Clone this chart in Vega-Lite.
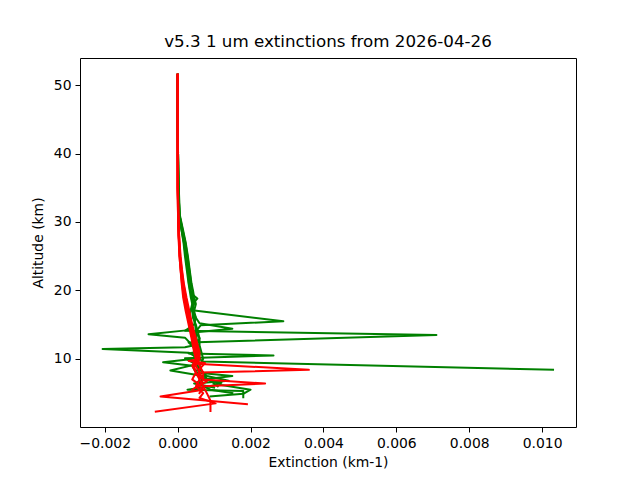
{
  "$schema": "https://vega.github.io/schema/vega-lite/v6.json",
  "width": 496,
  "height": 369,
  "autosize": "none",
  "padding": {"left": 80, "top": 58, "right": 64, "bottom": 53},
  "background": "white",
  "title": {
    "text": "v5.3 1 um extinctions from 2026-04-26",
    "font": "DejaVu Sans",
    "fontSize": 16.7,
    "fontWeight": "normal",
    "color": "black",
    "offset": 7
  },
  "data": {
    "values": [
      {"p": "G1", "c": "g", "a": 51.5, "x": 0},
      {"p": "G1", "c": "g", "a": 45, "x": 0},
      {"p": "G1", "c": "g", "a": 40, "x": 0.00001},
      {"p": "G1", "c": "g", "a": 35, "x": 0.00002},
      {"p": "G1", "c": "g", "a": 31, "x": 0.00004},
      {"p": "G1", "c": "g", "a": 29, "x": 0.0001},
      {"p": "G1", "c": "g", "a": 27, "x": 0.00017},
      {"p": "G1", "c": "g", "a": 25, "x": 0.00022},
      {"p": "G1", "c": "g", "a": 23, "x": 0.00027},
      {"p": "G1", "c": "g", "a": 21, "x": 0.00031},
      {"p": "G1", "c": "g", "a": 20, "x": 0.00034},
      {"p": "G1", "c": "g", "a": 19.5, "x": 0.00038},
      {"p": "G1", "c": "g", "a": 18.8, "x": 0.00054},
      {"p": "G1", "c": "g", "a": 18, "x": 0.0004},
      {"p": "G1", "c": "g", "a": 17, "x": 0.00042},
      {"p": "G1", "c": "g", "a": 16, "x": 0.00045},
      {"p": "G1", "c": "g", "a": 15, "x": 0.00048},
      {"p": "G1", "c": "g", "a": 14, "x": 0.0005},
      {"p": "G1", "c": "g", "a": 13, "x": 0.00052},
      {"p": "G1", "c": "g", "a": 12, "x": 0.00056},
      {"p": "G1", "c": "g", "a": 11, "x": 0.0006},
      {"p": "G1", "c": "g", "a": 10.2, "x": 0.00055},
      {"p": "G1", "c": "g", "a": 9.6, "x": 0.0007},
      {"p": "G1", "c": "g", "a": 8.4, "x": 0.0103},

      {"p": "G2", "c": "g", "a": 51.5, "x": 0},
      {"p": "G2", "c": "g", "a": 45, "x": 0},
      {"p": "G2", "c": "g", "a": 40, "x": 0.00001},
      {"p": "G2", "c": "g", "a": 35, "x": 0.00002},
      {"p": "G2", "c": "g", "a": 31, "x": 0.00005},
      {"p": "G2", "c": "g", "a": 29, "x": 0.00012},
      {"p": "G2", "c": "g", "a": 27, "x": 0.0002},
      {"p": "G2", "c": "g", "a": 25, "x": 0.00025},
      {"p": "G2", "c": "g", "a": 23, "x": 0.0003},
      {"p": "G2", "c": "g", "a": 21, "x": 0.00034},
      {"p": "G2", "c": "g", "a": 20, "x": 0.00036},
      {"p": "G2", "c": "g", "a": 19, "x": 0.0004},
      {"p": "G2", "c": "g", "a": 18, "x": 0.00042},
      {"p": "G2", "c": "g", "a": 17.1, "x": 0.0004},
      {"p": "G2", "c": "g", "a": 15.5, "x": 0.0029},
      {"p": "G2", "c": "g", "a": 14.9, "x": 0.00063},
      {"p": "G2", "c": "g", "a": 14, "x": 0.0005},
      {"p": "G2", "c": "g", "a": 13, "x": 0.0005},
      {"p": "G2", "c": "g", "a": 12, "x": 0.00045},
      {"p": "G2", "c": "g", "a": 11.7, "x": 0.0002},
      {"p": "G2", "c": "g", "a": 11.45, "x": -0.00206},
      {"p": "G2", "c": "g", "a": 10.9, "x": 0.0003},
      {"p": "G2", "c": "g", "a": 10, "x": 0.0006},
      {"p": "G2", "c": "g", "a": 9, "x": 0.0005},
      {"p": "G2", "c": "g", "a": 8, "x": 0.0007},
      {"p": "G2", "c": "g", "a": 7, "x": 0.0008},
      {"p": "G2", "c": "g", "a": 6.2, "x": 0.0012},
      {"p": "G2", "c": "g", "a": 5.5, "x": 0.002},
      {"p": "G2", "c": "g", "a": 4.9, "x": 0.0018},
      {"p": "G2", "c": "g", "a": 4.5, "x": 0.0009},

      {"p": "G3", "c": "g", "a": 51.5, "x": 0},
      {"p": "G3", "c": "g", "a": 45, "x": 0},
      {"p": "G3", "c": "g", "a": 40, "x": 0.00001},
      {"p": "G3", "c": "g", "a": 35, "x": 0.00002},
      {"p": "G3", "c": "g", "a": 31, "x": 0.00005},
      {"p": "G3", "c": "g", "a": 29, "x": 0.00013},
      {"p": "G3", "c": "g", "a": 27, "x": 0.00021},
      {"p": "G3", "c": "g", "a": 25, "x": 0.00027},
      {"p": "G3", "c": "g", "a": 23, "x": 0.00032},
      {"p": "G3", "c": "g", "a": 21, "x": 0.00037},
      {"p": "G3", "c": "g", "a": 20, "x": 0.0004},
      {"p": "G3", "c": "g", "a": 19, "x": 0.00043},
      {"p": "G3", "c": "g", "a": 18, "x": 0.00045},
      {"p": "G3", "c": "g", "a": 17, "x": 0.0004},
      {"p": "G3", "c": "g", "a": 16, "x": 0.0005},
      {"p": "G3", "c": "g", "a": 15.2, "x": 0.0006},
      {"p": "G3", "c": "g", "a": 14.4, "x": 0.0015},
      {"p": "G3", "c": "g", "a": 13.9, "x": 0.0005},
      {"p": "G3", "c": "g", "a": 13, "x": 0.0006},
      {"p": "G3", "c": "g", "a": 12, "x": 0.0005},
      {"p": "G3", "c": "g", "a": 11, "x": 0.0006},
      {"p": "G3", "c": "g", "a": 10, "x": 0.0004},
      {"p": "G3", "c": "g", "a": 9.5, "x": -0.0004},
      {"p": "G3", "c": "g", "a": 9, "x": 0.0004},
      {"p": "G3", "c": "g", "a": 8, "x": 0.0005},
      {"p": "G3", "c": "g", "a": 7.2, "x": 0.0006},
      {"p": "G3", "c": "g", "a": 6.5, "x": 0.0012},
      {"p": "G3", "c": "g", "a": 6, "x": 0.0009},
      {"p": "G3", "c": "g", "a": 5.5, "x": 0.00027},
      {"p": "G3", "c": "g", "a": 5.3, "x": 0.0018},
      {"p": "G3", "c": "g", "a": 4.4, "x": 0.0018},

      {"p": "G4", "c": "g", "a": 51.5, "x": 0},
      {"p": "G4", "c": "g", "a": 45, "x": 0},
      {"p": "G4", "c": "g", "a": 40, "x": 0},
      {"p": "G4", "c": "g", "a": 35, "x": 0.00002},
      {"p": "G4", "c": "g", "a": 31, "x": 0.00004},
      {"p": "G4", "c": "g", "a": 29, "x": 0.0001},
      {"p": "G4", "c": "g", "a": 27, "x": 0.00016},
      {"p": "G4", "c": "g", "a": 25, "x": 0.0002},
      {"p": "G4", "c": "g", "a": 23, "x": 0.00025},
      {"p": "G4", "c": "g", "a": 21, "x": 0.0003},
      {"p": "G4", "c": "g", "a": 20, "x": 0.00033},
      {"p": "G4", "c": "g", "a": 19, "x": 0.00036},
      {"p": "G4", "c": "g", "a": 18, "x": 0.0004},
      {"p": "G4", "c": "g", "a": 17, "x": 0.00035},
      {"p": "G4", "c": "g", "a": 16, "x": 0.0003},
      {"p": "G4", "c": "g", "a": 15, "x": 0.0004},
      {"p": "G4", "c": "g", "a": 14.2, "x": 0.0003},
      {"p": "G4", "c": "g", "a": 13.6, "x": -0.0008},
      {"p": "G4", "c": "g", "a": 13.1, "x": 0.0002},
      {"p": "G4", "c": "g", "a": 12, "x": 0.0004},
      {"p": "G4", "c": "g", "a": 11, "x": 0.0005},
      {"p": "G4", "c": "g", "a": 10.8, "x": 0.0003},
      {"p": "G4", "c": "g", "a": 10.5, "x": 0.00263},
      {"p": "G4", "c": "g", "a": 10.1, "x": 0.0002},
      {"p": "G4", "c": "g", "a": 9.2, "x": 0.0005},
      {"p": "G4", "c": "g", "a": 8.3, "x": -0.0002},
      {"p": "G4", "c": "g", "a": 7.5, "x": 0.0007},
      {"p": "G4", "c": "g", "a": 6.8, "x": 0.0009},
      {"p": "G4", "c": "g", "a": 6, "x": 0.0011},

      {"p": "G5", "c": "g", "a": 51.5, "x": 0},
      {"p": "G5", "c": "g", "a": 45, "x": 0},
      {"p": "G5", "c": "g", "a": 40, "x": 0.00001},
      {"p": "G5", "c": "g", "a": 35, "x": 0.00003},
      {"p": "G5", "c": "g", "a": 31, "x": 0.00006},
      {"p": "G5", "c": "g", "a": 29, "x": 0.00014},
      {"p": "G5", "c": "g", "a": 27, "x": 0.00022},
      {"p": "G5", "c": "g", "a": 25, "x": 0.00028},
      {"p": "G5", "c": "g", "a": 23, "x": 0.00033},
      {"p": "G5", "c": "g", "a": 21, "x": 0.00038},
      {"p": "G5", "c": "g", "a": 20, "x": 0.00042},
      {"p": "G5", "c": "g", "a": 19, "x": 0.00045},
      {"p": "G5", "c": "g", "a": 18, "x": 0.0005},
      {"p": "G5", "c": "g", "a": 17, "x": 0.00045},
      {"p": "G5", "c": "g", "a": 16, "x": 0.0005},
      {"p": "G5", "c": "g", "a": 15, "x": 0.00045},
      {"p": "G5", "c": "g", "a": 14.1, "x": 0.0002},
      {"p": "G5", "c": "g", "a": 13.5, "x": 0.0071},
      {"p": "G5", "c": "g", "a": 12.4, "x": 0.0003},
      {"p": "G5", "c": "g", "a": 11.5, "x": 0.0005},
      {"p": "G5", "c": "g", "a": 10.5, "x": 0.0006},
      {"p": "G5", "c": "g", "a": 9.5, "x": 0.0005},
      {"p": "G5", "c": "g", "a": 8.5, "x": 0.0006},
      {"p": "G5", "c": "g", "a": 7.5, "x": 0.0008},
      {"p": "G5", "c": "g", "a": 6.8, "x": 0.0014},
      {"p": "G5", "c": "g", "a": 6.4, "x": 0.00045},
      {"p": "G5", "c": "g", "a": 5.8, "x": 0.001},

      {"p": "G6", "c": "g", "a": 51.5, "x": 0},
      {"p": "G6", "c": "g", "a": 45, "x": 0},
      {"p": "G6", "c": "g", "a": 40, "x": 0.00001},
      {"p": "G6", "c": "g", "a": 35, "x": 0.00002},
      {"p": "G6", "c": "g", "a": 31, "x": 0.00005},
      {"p": "G6", "c": "g", "a": 29, "x": 0.00011},
      {"p": "G6", "c": "g", "a": 27, "x": 0.00018},
      {"p": "G6", "c": "g", "a": 25, "x": 0.00023},
      {"p": "G6", "c": "g", "a": 23, "x": 0.00028},
      {"p": "G6", "c": "g", "a": 21, "x": 0.00033},
      {"p": "G6", "c": "g", "a": 20, "x": 0.00035},
      {"p": "G6", "c": "g", "a": 19, "x": 0.00039},
      {"p": "G6", "c": "g", "a": 18, "x": 0.00043},
      {"p": "G6", "c": "g", "a": 17, "x": 0.0004},
      {"p": "G6", "c": "g", "a": 16, "x": 0.00042},
      {"p": "G6", "c": "g", "a": 15, "x": 0.0005},
      {"p": "G6", "c": "g", "a": 14, "x": 0.00055},
      {"p": "G6", "c": "g", "a": 13, "x": 0.0006},
      {"p": "G6", "c": "g", "a": 12, "x": 0.0006},
      {"p": "G6", "c": "g", "a": 11, "x": 0.00065},
      {"p": "G6", "c": "g", "a": 10, "x": 0.0007},
      {"p": "G6", "c": "g", "a": 9, "x": 0.0006},
      {"p": "G6", "c": "g", "a": 8, "x": 0.0005},
      {"p": "G6", "c": "g", "a": 7.5, "x": 0.0015},
      {"p": "G6", "c": "g", "a": 7, "x": 0.0007},
      {"p": "G6", "c": "g", "a": 6.5, "x": 0.0005},
      {"p": "G6", "c": "g", "a": 5.5, "x": 0.0009},
      {"p": "G6", "c": "g", "a": 5, "x": 0.0015},

      {"p": "R1", "c": "r", "a": 51.5, "x": 0},
      {"p": "R1", "c": "r", "a": 45, "x": 0},
      {"p": "R1", "c": "r", "a": 40, "x": 0},
      {"p": "R1", "c": "r", "a": 35, "x": 0},
      {"p": "R1", "c": "r", "a": 31, "x": 0.00001},
      {"p": "R1", "c": "r", "a": 28, "x": 0.00003},
      {"p": "R1", "c": "r", "a": 25, "x": 0.00006},
      {"p": "R1", "c": "r", "a": 23, "x": 0.0001},
      {"p": "R1", "c": "r", "a": 21, "x": 0.00014},
      {"p": "R1", "c": "r", "a": 19, "x": 0.0002},
      {"p": "R1", "c": "r", "a": 17, "x": 0.00028},
      {"p": "R1", "c": "r", "a": 15, "x": 0.00036},
      {"p": "R1", "c": "r", "a": 13, "x": 0.00045},
      {"p": "R1", "c": "r", "a": 11, "x": 0.00052},
      {"p": "R1", "c": "r", "a": 10, "x": 0.00055},
      {"p": "R1", "c": "r", "a": 9, "x": 0.0005},
      {"p": "R1", "c": "r", "a": 8, "x": 0.0006},
      {"p": "R1", "c": "r", "a": 7, "x": 0.0007},
      {"p": "R1", "c": "r", "a": 6, "x": 0.0006},
      {"p": "R1", "c": "r", "a": 5.5, "x": 0.0007},
      {"p": "R1", "c": "r", "a": 4.5, "x": -0.00047},
      {"p": "R1", "c": "r", "a": 3.4, "x": 0.0019},

      {"p": "R2", "c": "r", "a": 51.5, "x": 0},
      {"p": "R2", "c": "r", "a": 45, "x": 0},
      {"p": "R2", "c": "r", "a": 40, "x": 0},
      {"p": "R2", "c": "r", "a": 35, "x": 0},
      {"p": "R2", "c": "r", "a": 31, "x": 0.00001},
      {"p": "R2", "c": "r", "a": 28, "x": 0.00002},
      {"p": "R2", "c": "r", "a": 25, "x": 0.00005},
      {"p": "R2", "c": "r", "a": 23, "x": 0.00008},
      {"p": "R2", "c": "r", "a": 21, "x": 0.00012},
      {"p": "R2", "c": "r", "a": 19, "x": 0.00017},
      {"p": "R2", "c": "r", "a": 17, "x": 0.00024},
      {"p": "R2", "c": "r", "a": 15, "x": 0.00032},
      {"p": "R2", "c": "r", "a": 13, "x": 0.0004},
      {"p": "R2", "c": "r", "a": 11, "x": 0.00048},
      {"p": "R2", "c": "r", "a": 10, "x": 0.0005},
      {"p": "R2", "c": "r", "a": 9, "x": 0.00045},
      {"p": "R2", "c": "r", "a": 8, "x": 0.0005},
      {"p": "R2", "c": "r", "a": 7, "x": 0.0006},
      {"p": "R2", "c": "r", "a": 6, "x": 0.0005},
      {"p": "R2", "c": "r", "a": 5, "x": 0.0007},
      {"p": "R2", "c": "r", "a": 4.3, "x": 0.0006},
      {"p": "R2", "c": "r", "a": 3.5, "x": 0.00104},
      {"p": "R2", "c": "r", "a": 2.3, "x": -0.0006},

      {"p": "R3", "c": "r", "a": 51.5, "x": 0},
      {"p": "R3", "c": "r", "a": 45, "x": 0},
      {"p": "R3", "c": "r", "a": 40, "x": 0},
      {"p": "R3", "c": "r", "a": 35, "x": 0},
      {"p": "R3", "c": "r", "a": 31, "x": 0.00002},
      {"p": "R3", "c": "r", "a": 28, "x": 0.00004},
      {"p": "R3", "c": "r", "a": 25, "x": 0.00007},
      {"p": "R3", "c": "r", "a": 23, "x": 0.00011},
      {"p": "R3", "c": "r", "a": 21, "x": 0.00016},
      {"p": "R3", "c": "r", "a": 19, "x": 0.00022},
      {"p": "R3", "c": "r", "a": 17, "x": 0.0003},
      {"p": "R3", "c": "r", "a": 15, "x": 0.00038},
      {"p": "R3", "c": "r", "a": 13, "x": 0.00048},
      {"p": "R3", "c": "r", "a": 11, "x": 0.00056},
      {"p": "R3", "c": "r", "a": 10, "x": 0.0006},
      {"p": "R3", "c": "r", "a": 9.3, "x": 0.0005},
      {"p": "R3", "c": "r", "a": 8.4, "x": 0.0036},
      {"p": "R3", "c": "r", "a": 8, "x": 0.0006},
      {"p": "R3", "c": "r", "a": 7, "x": 0.0006},
      {"p": "R3", "c": "r", "a": 6, "x": 0.0007},
      {"p": "R3", "c": "r", "a": 5, "x": 0.0008},
      {"p": "R3", "c": "r", "a": 3.9, "x": 0.0009},
      {"p": "R3", "c": "r", "a": 2.4, "x": 0.0009},

      {"p": "R4", "c": "r", "a": 51.5, "x": 0},
      {"p": "R4", "c": "r", "a": 45, "x": 0},
      {"p": "R4", "c": "r", "a": 40, "x": 0},
      {"p": "R4", "c": "r", "a": 35, "x": 0},
      {"p": "R4", "c": "r", "a": 31, "x": 0.00001},
      {"p": "R4", "c": "r", "a": 28, "x": 0.00003},
      {"p": "R4", "c": "r", "a": 25, "x": 0.00006},
      {"p": "R4", "c": "r", "a": 23, "x": 0.00009},
      {"p": "R4", "c": "r", "a": 21, "x": 0.00013},
      {"p": "R4", "c": "r", "a": 19, "x": 0.00018},
      {"p": "R4", "c": "r", "a": 17, "x": 0.00026},
      {"p": "R4", "c": "r", "a": 15, "x": 0.00034},
      {"p": "R4", "c": "r", "a": 13, "x": 0.00043},
      {"p": "R4", "c": "r", "a": 11, "x": 0.0005},
      {"p": "R4", "c": "r", "a": 10, "x": 0.00055},
      {"p": "R4", "c": "r", "a": 9, "x": 0.0006},
      {"p": "R4", "c": "r", "a": 8, "x": 0.0007},
      {"p": "R4", "c": "r", "a": 7, "x": 0.0007},
      {"p": "R4", "c": "r", "a": 6.4, "x": 0.0024},
      {"p": "R4", "c": "r", "a": 6, "x": 0.0007},
      {"p": "R4", "c": "r", "a": 5, "x": 0.0006},

      {"p": "R5", "c": "r", "a": 51.5, "x": 0},
      {"p": "R5", "c": "r", "a": 45, "x": 0},
      {"p": "R5", "c": "r", "a": 40, "x": 0},
      {"p": "R5", "c": "r", "a": 35, "x": 0},
      {"p": "R5", "c": "r", "a": 31, "x": 0.00002},
      {"p": "R5", "c": "r", "a": 28, "x": 0.00004},
      {"p": "R5", "c": "r", "a": 25, "x": 0.00008},
      {"p": "R5", "c": "r", "a": 23, "x": 0.00012},
      {"p": "R5", "c": "r", "a": 21, "x": 0.00017},
      {"p": "R5", "c": "r", "a": 19, "x": 0.00024},
      {"p": "R5", "c": "r", "a": 17, "x": 0.00032},
      {"p": "R5", "c": "r", "a": 15, "x": 0.0004},
      {"p": "R5", "c": "r", "a": 13, "x": 0.0005},
      {"p": "R5", "c": "r", "a": 11, "x": 0.0006},
      {"p": "R5", "c": "r", "a": 10, "x": 0.0006},
      {"p": "R5", "c": "r", "a": 9.7, "x": 0.0003},
      {"p": "R5", "c": "r", "a": 9.4, "x": 0.00075},
      {"p": "R5", "c": "r", "a": 8.5, "x": 0.0006},
      {"p": "R5", "c": "r", "a": 7.5, "x": 0.00055},
      {"p": "R5", "c": "r", "a": 6.7, "x": 0.0008},
      {"p": "R5", "c": "r", "a": 5.8, "x": 0.0005},

      {"p": "R6", "c": "r", "a": 51.5, "x": 0},
      {"p": "R6", "c": "r", "a": 45, "x": 0},
      {"p": "R6", "c": "r", "a": 40, "x": 0},
      {"p": "R6", "c": "r", "a": 35, "x": 0.00001},
      {"p": "R6", "c": "r", "a": 31, "x": 0.00002},
      {"p": "R6", "c": "r", "a": 28, "x": 0.00003},
      {"p": "R6", "c": "r", "a": 25, "x": 0.00005},
      {"p": "R6", "c": "r", "a": 23, "x": 0.00008},
      {"p": "R6", "c": "r", "a": 21, "x": 0.00011},
      {"p": "R6", "c": "r", "a": 19, "x": 0.00015},
      {"p": "R6", "c": "r", "a": 17, "x": 0.00022},
      {"p": "R6", "c": "r", "a": 15, "x": 0.0003},
      {"p": "R6", "c": "r", "a": 13, "x": 0.00038},
      {"p": "R6", "c": "r", "a": 11, "x": 0.00045},
      {"p": "R6", "c": "r", "a": 10, "x": 0.0005},
      {"p": "R6", "c": "r", "a": 9, "x": 0.0004},
      {"p": "R6", "c": "r", "a": 8, "x": 0.0005},
      {"p": "R6", "c": "r", "a": 7, "x": 0.0004},
      {"p": "R6", "c": "r", "a": 6.2, "x": 0.0006},
      {"p": "R6", "c": "r", "a": 5.5, "x": 0.0004}
    ]
  },
  "encoding": {
    "x": {
      "field": "x",
      "type": "quantitative",
      "title": "Extinction (km-1)",
      "scale": {"domain": [-0.00268, 0.01093], "nice": false, "zero": false},
      "axis": {"values": [-0.002, 0, 0.002, 0.004, 0.006, 0.008, 0.01], "format": ".3f", "titlePadding": 6}
    },
    "y": {
      "field": "a",
      "type": "quantitative",
      "title": "Altitude (km)",
      "scale": {"domain": [0.05, 53.95], "nice": false, "zero": false},
      "axis": {"values": [10, 20, 30, 40, 50], "format": "d", "titlePadding": 8}
    },
    "detail": {"field": "p"},
    "order": {"field": "a", "sort": "descending"}
  },
  "layer": [
    {
      "transform": [{"filter": "datum.c == 'g'"}],
      "mark": {"type": "line", "color": "green", "strokeWidth": 2, "strokeJoin": "round", "strokeCap": "square", "clip": true}
    },
    {
      "transform": [{"filter": "datum.c == 'r'"}],
      "mark": {"type": "line", "color": "red", "strokeWidth": 2, "strokeJoin": "round", "strokeCap": "square", "clip": true}
    }
  ],
  "config": {
    "view": {"stroke": "black", "strokeWidth": 1},
    "axis": {
      "grid": false,
      "domain": false,
      "ticks": true,
      "tickColor": "black",
      "tickSize": 5,
      "tickWidth": 1,
      "labelFont": "DejaVu Sans",
      "labelFontSize": 13.9,
      "labelColor": "black",
      "labelPadding": 4,
      "titleFont": "DejaVu Sans",
      "titleFontSize": 13.9,
      "titleFontWeight": "normal",
      "titleColor": "black"
    }
  }
}
